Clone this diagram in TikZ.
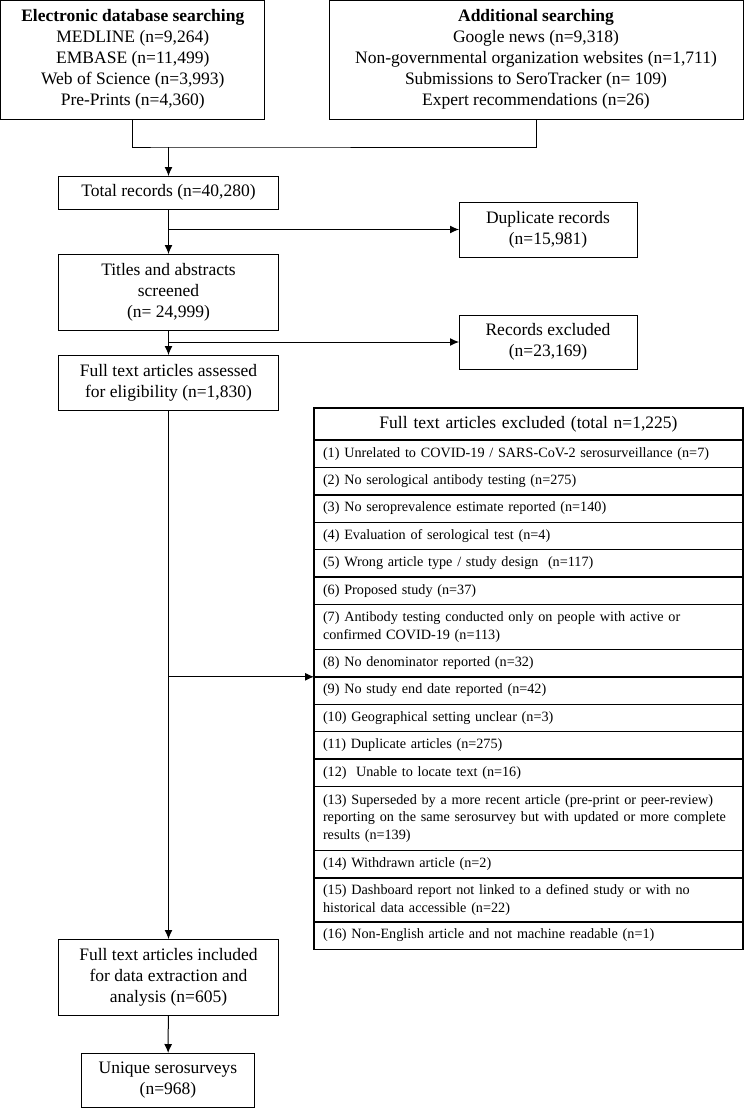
\documentclass[tikz,border=0pt]{standalone}
\usepackage{fontspec}
\setmainfont{Liberation Serif}
\usetikzlibrary{arrows.meta,positioning}
\newcommand{\boxfont}{\fontsize{17.5}{21}\selectfont}
\newcommand{\rowfont}{\fontsize{14.2}{17.5}\selectfont}
\tikzset{%
	flowbox/.style = {draw, rectangle, line width=1pt, align=center, font=\boxfont, inner sep=2pt, outer sep=0pt},
	exclrow/.style = {draw, rectangle, line width=1.4pt, text width=411pt, align=left, inner xsep=9pt, inner ysep=0pt, outer sep=0pt, minimum height=27.4pt, font=\rowfont},
	arrow/.style   = {line width=1pt, -{Latex[length=9pt,width=8pt]}},
}

\begin{document}
\begin{tikzpicture}[x=1pt,y=-1pt]
		\useasboundingbox (0,0) rectangle (744,1109);
		
		% searching
		\node[flowbox, minimum width=264pt, minimum height=119pt] (db) at (132.8,59.5) {\textbf{Electronic database searching}\\MEDLINE (n=9,264)\\EMBASE (n=11,499)\\Web of Science (n=3,993)\\Pre-Prints (n=4,360)};
		\node[flowbox, minimum width=414pt, minimum height=119pt] (extra) at (536,59.5) {\textbf{Additional searching}\\Google news (n=9,318)\\Non-governmental organization websites (n=1,711)\\Submissions to SeroTracker (n= 109)\\Expert recommendations (n=26)};
		\coordinate (merge) at (168.5,147);
		
		% screening
		\node[flowbox, minimum width=220pt, minimum height=33pt] (total) at (168.5,192.5) {Total records (n=40,280)};
		\node[flowbox, minimum width=220pt, minimum height=76pt] (titles) at (168.5,292) {Titles and abstracts\\screened\\(n= 24,999)};
		\node[flowbox, minimum width=220pt, minimum height=55pt] (assessed) at (168.5,382.5) {Full text articles assessed\\for eligibility (n=1,830)};
		\node[flowbox, minimum width=220pt, minimum height=76pt] (included) at (168.5,977) {Full text articles included\\for data extraction and\\analysis (n=605)};
		\node[flowbox, minimum width=173pt, minimum height=54pt] (unique) at (168,1080) {Unique serosurveys\\(n=968)};
		\node[flowbox, minimum width=178pt, minimum height=55pt] (dup) at (548,229.5) {Duplicate records\\(n=15,981)};
		\node[flowbox, minimum width=178pt, minimum height=54pt] (recexcl) at (548,342) {Records excluded\\(n=23,169)};
		
		% exclusion reasons
		\node[exclrow, align=center, minimum height=32pt, font=\boxfont, anchor=north west] (ftexcl) at (314,408) {Full text articles excluded (total n=1,225)};
		\node[exclrow, below=0pt of ftexcl] (r1) {(1) Unrelated to COVID-19 / SARS-CoV-2 serosurveillance (n=7)};
		\node[exclrow, below=0pt of r1] (r2) {(2) No serological antibody testing (n=275)};
		\node[exclrow, below=0pt of r2] (r3) {(3) No seroprevalence estimate reported (n=140)};
		\node[exclrow, below=0pt of r3] (r4) {(4) Evaluation of serological test (n=4)};
		\node[exclrow, below=0pt of r4] (r5) {(5) Wrong article type / study design~ (n=117)};
		\node[exclrow, below=0pt of r5] (r6) {(6) Proposed study (n=37)};
		\node[exclrow, below=0pt of r6, minimum height=45pt] (r7) {(7) Antibody testing conducted only on people with active or\\confirmed COVID-19 (n=113)};
		\node[exclrow, below=0pt of r7] (r8) {(8) No denominator reported (n=32)};
		\node[exclrow, below=0pt of r8] (r9) {(9) No study end date reported (n=42)};
		\node[exclrow, below=0pt of r9] (r10) {(10) Geographical setting unclear (n=3)};
		\node[exclrow, below=0pt of r10] (r11) {(11) Duplicate articles (n=275)};
		\node[exclrow, below=0pt of r11] (r12) {(12)~ Unable to locate text (n=16)};
		\node[exclrow, below=0pt of r12, minimum height=64pt] (r13) {(13) Superseded by a more recent article (pre-print or peer-review)\\reporting on the same serosurvey but with updated or more complete\\results (n=139)};
		\node[exclrow, below=0pt of r13] (r14) {(14) Withdrawn article (n=2)};
		\node[exclrow, below=0pt of r14, minimum height=44pt] (r15) {(15) Dashboard report not linked to a defined study or with no\\historical data accessible (n=22)};
		\node[exclrow, below=0pt of r15] (r16) {(16) Non-English article and not machine readable (n=1)};
		
		% connectors
		\draw[line width=1pt] (db.south) |- (merge) -| (extra.south);
		\draw[arrow] (merge) -- (total);
		\draw[arrow] (total) -- (titles);
		\draw[arrow] (total.south |- dup.west) -- (dup.west);
		\draw[arrow] (titles) -- (assessed);
		\draw[arrow] (titles.south |- recexcl.west) -- (recexcl.west);
		\draw[arrow] (assessed) -- (included);
		\draw[arrow] (assessed.south |- r8.south west) -- (r8.south west);
		\draw[arrow] (included) -- (unique);
		
\end{tikzpicture}
\end{document}
